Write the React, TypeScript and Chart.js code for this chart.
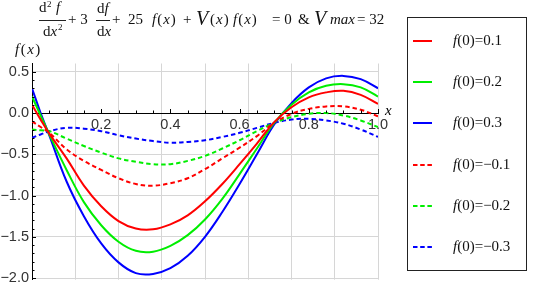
import React, { useEffect, useRef } from 'react';
import { Chart, registerables } from 'chart.js';

Chart.register(...registerables);

// x positions of the sampled points
const XS = [0, 0.025, 0.05, 0.1, 0.15, 0.2, 0.25, 0.3, 0.35, 0.4, 0.45, 0.5, 0.55, 0.6, 0.65, 0.7, 0.75, 0.8, 0.85, 0.9, 0.95, 1.0];

// solid curves, f(0) = 0.1, 0.2, 0.3
const F_P01 = [0.10, -0.08, -0.25, -0.55, -0.88, -1.13, -1.31, -1.40, -1.41, -1.35, -1.24, -1.07, -0.86, -0.62, -0.37, -0.11, 0.07, 0.19, 0.25, 0.27, 0.22, 0.11];
const F_P02 = [0.20, -0.03, -0.26, -0.69, -1.08, -1.36, -1.56, -1.67, -1.68, -1.61, -1.48, -1.29, -1.04, -0.74, -0.43, -0.12, 0.10, 0.25, 0.33, 0.35, 0.31, 0.20];
const F_P03 = [0.30, 0.00, -0.27, -0.83, -1.25, -1.58, -1.81, -1.94, -1.95, -1.88, -1.73, -1.50, -1.20, -0.86, -0.50, -0.14, 0.12, 0.31, 0.42, 0.45, 0.41, 0.30];
// dashed curves, f(0) = -0.1, -0.2, -0.3
const F_M01 = [-0.10, -0.17, -0.24, -0.44, -0.58, -0.69, -0.79, -0.86, -0.88, -0.85, -0.79, -0.68, -0.55, -0.42, -0.28, -0.12, -0.01, 0.05, 0.08, 0.08, 0.04, -0.04];
const F_M02 = [-0.20, -0.21, -0.22, -0.31, -0.40, -0.48, -0.55, -0.59, -0.62, -0.62, -0.58, -0.52, -0.43, -0.33, -0.22, -0.12, -0.05, -0.01, 0.00, -0.03, -0.09, -0.17];
const F_M03 = [-0.30, -0.26, -0.22, -0.18, -0.19, -0.22, -0.27, -0.31, -0.34, -0.36, -0.35, -0.33, -0.29, -0.24, -0.18, -0.12, -0.08, -0.07, -0.09, -0.13, -0.20, -0.29];

const LEGEND_VALUES = ['0.1', '0.2', '0.3', '\u22120.1', '\u22120.2', '\u22120.3'];
const SERIES = [F_P01, F_P02, F_P03, F_M01, F_M02, F_M03];
const COLORS = ['#ff0000', '#00ee00', '#0000ff', '#ff0000', '#00ee00', '#0000ff'];
const DASHED = [false, false, false, true, true, true];

const SERIF = '"Liberation Serif", "Times New Roman", serif';
const SANS = '"Liberation Sans", Arial, sans-serif';

const fmt = (v: number) => (Math.abs(v) < 1e-9 ? '0.0' : (v < 0 ? '\u2212' : '') + Math.abs(v).toFixed(1));

const axisDecor = {
  id: 'axisDecor',
  afterDraw(chart: any) {
    const { ctx } = chart;
    const xs = chart.scales.x;
    const ys = chart.scales.y;
    const y0 = ys.getPixelForValue(0);
    ctx.save();
    ctx.strokeStyle = '#000';
    ctx.lineWidth = 1;
    ctx.beginPath();
    for (let i = 1; i <= 20; i++) {
      const px = Math.round(xs.getPixelForValue(i * 0.05)) + 0.5;
      const len = i % 4 === 0 ? 4 : 2.5;
      ctx.moveTo(px, y0);
      ctx.lineTo(px, y0 - len);
    }
    for (let i = -20; i <= 5; i++) {
      if (i === 0) continue;
      const py = Math.round(ys.getPixelForValue(i * 0.1)) + 0.5;
      const len = i % 5 === 0 ? 4 : 2.5;
      ctx.moveTo(xs.left, py);
      ctx.lineTo(xs.left + len, py);
    }
    ctx.stroke();
    ctx.font = 'italic 15px "Liberation Serif"';
    ctx.fillStyle = '#000';
    ctx.textBaseline = 'alphabetic';
    ctx.fillText('x', xs.right + 7, y0 + 2);
    ctx.restore();
  },
};

function T(props: { x: number; b: number; s?: number; it?: boolean; ls?: number; children: any }) {
  const s = props.s ?? 15;
  return (
    <span
      style={{
        position: 'absolute',
        left: props.x,
        top: props.b - 0.8375 * s,
        fontSize: s,
        lineHeight: `${s}px`,
        fontFamily: SERIF,
        fontStyle: props.it ? 'italic' : 'normal',
        whiteSpace: 'pre',
        color: '#111',
        letterSpacing: props.ls ?? 0,
      }}
    >
      {props.children}
    </span>
  );
}

function Bar(props: { x: number; y: number; w: number }) {
  return <div style={{ position: 'absolute', left: props.x, top: props.y, width: props.w, height: 1, background: '#222' }} />;
}

export default function App() {
  const ref = useRef<HTMLCanvasElement>(null);

  useEffect(() => {
    const datasets = SERIES.map((ys, k) => ({
      label: 'f(0)=' + LEGEND_VALUES[k],
      data: XS.map((x, i) => ({ x, y: ys[i] })),
      borderColor: COLORS[k],
      backgroundColor: COLORS[k],
      borderWidth: 2,
      borderDash: DASHED[k] ? [4.5, 3] : [],
      pointRadius: 0,
      tension: 0.4,
      fill: false,
    }));
    const chart = new Chart(ref.current as HTMLCanvasElement, {
      type: 'line',
      data: { datasets },
      options: {
        animation: false,
        responsive: false,
        devicePixelRatio: 1,
        layout: { padding: { left: 0, right: 160, top: 63.5, bottom: 18.3 } },
        plugins: { legend: { display: false }, tooltip: { enabled: false } },
        scales: {
          x2: {
            type: 'linear',
            min: 0,
            max: 1,
            position: { y: 0 } as any,
            ticks: { display: false, stepSize: 0.125 },
            grid: {
              drawTicks: false,
              color: (c: any) => (c.tick && Math.abs(c.tick.value) < 1e-9 ? 'rgba(0,0,0,0)' : '#d6d6d6'),
              lineWidth: 1,
            },
            border: { display: false },
          },
          x: {
            type: 'linear',
            min: 0,
            max: 1,
            position: { y: 0 } as any,
            ticks: {
              stepSize: 0.2,
              autoSkip: false,
              maxRotation: 0,
              padding: 3,
              color: '#333',
              font: { family: SANS, size: 14.5 },
              callback: (v: any) => (Math.abs(v) < 1e-9 ? '' : Number(v).toFixed(1)),
            },
            grid: { display: false, drawTicks: false },
            border: { display: true, color: '#000', width: 1 },
          },
          y: {
            type: 'linear',
            min: -2.02,
            max: 0.6,
            position: 'left',
            afterFit: (s: any) => {
              s.width = 32;
            },
            ticks: {
              stepSize: 0.5,
              includeBounds: false,
              padding: 3,
              color: '#333',
              font: { family: SANS, size: 14.5 },
              callback: (v: any) => fmt(Number(v)),
            },
            grid: {
              drawTicks: false,
              color: (c: any) => (c.tick && Math.abs(c.tick.value) < 1e-9 ? 'rgba(0,0,0,0)' : '#d6d6d6'),
            },
            border: { display: true, color: '#000', width: 1 },
          },
        },
      } as any,
      plugins: [axisDecor],
    });
    return () => chart.destroy();
  }, []);

  return (
    <div style={{ position: 'absolute', left: 0, top: 0, width: 538, height: 298, background: '#fff', overflow: 'hidden' }}>
      <canvas ref={ref} width={538} height={298} style={{ position: 'absolute', left: 0, top: 0, width: 538, height: 298 }} />

      {/* equation title */}
      <T x={39} b={13}>d</T>
      <T x={47} b={8} s={9}>2</T>
      <T x={56} b={13} it>f</T>
      <Bar x={39} y={20} w={27} />
      <T x={43} b={37}>d<i>x</i></T>
      <T x={58} b={31} s={9}>2</T>
      <T x={68} b={25}>+ 3</T>
      <T x={97} b={14}>d<i>f</i></T>
      <Bar x={96} y={20} w={14} />
      <T x={97} b={37}>d<i>x</i></T>
      <T x={112} b={25}>+</T>
      <T x={128} b={25}>25</T>
      <T x={152} b={25} ls={1}><i>f</i>(<i>x</i>)</T>
      <T x={183} b={25}>+</T>
      <T x={196} b={25} s={20} it>V</T>
      <T x={210} b={25} ls={1}>(<i>x</i>)</T>
      <T x={233} b={25} ls={1}><i>f</i>(<i>x</i>)</T>
      <T x={272} b={25}>= 0</T>
      <T x={298} b={25}>&amp;</T>
      <T x={314} b={25} s={20} it>V</T>
      <T x={330} b={25} it>max</T>
      <T x={357} b={25}>= 32</T>

      {/* y-axis label */}
      <T x={15} b={55} ls={1.5}><i>f</i>(<i>x</i>)</T>

      {/* legend */}
      <div
        style={{
          position: 'absolute',
          left: 407,
          top: 17,
          width: 120,
          height: 254,
          boxSizing: 'border-box',
          border: '1px solid #222',
        }}
      >
        {LEGEND_VALUES.map((v, k) => {
          const cy = 23 + k * 41.2;
          return (
            <React.Fragment key={k}>
              <svg style={{ position: 'absolute', left: 5, top: cy - 3 }} width={20} height={6}>
                <line
                  x1={0}
                  y1={3}
                  x2={19}
                  y2={3}
                  stroke={COLORS[k]}
                  strokeWidth={2}
                  strokeDasharray={DASHED[k] ? '4.5,2.7' : undefined}
                />
              </svg>
              <T x={45} b={cy + 4.5}>
                <i>f</i>(0)={v}
              </T>
            </React.Fragment>
          );
        })}
      </div>
    </div>
  );
}
